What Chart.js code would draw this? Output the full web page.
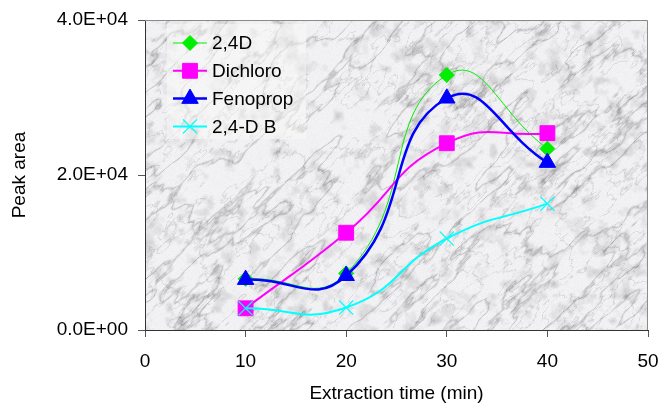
<!DOCTYPE html>
<html>
<head>
<meta charset="utf-8">
<script src="https://cdn.jsdelivr.net/npm/chart.js@4/dist/chart.umd.min.js"></script>
<style>
  body { margin: 0; background: #fff; }
  canvas { display: block; }
</style>
</head>
<body>
<canvas id="peakChart" width="661" height="403"></canvas>
<script>
// extraction time (min)
var times = [10, 20, 30, 40];
// peak areas
var d24D     = [6600, 7300, 32900, 23400];
var dichloro = [2800, 12550, 24100, 25400];
var fenoprop = [6500, 7000, 29900, 21600];
var d24DB    = [2800, 2900, 11800, 16300];

var seriesNames = ["2,4D", "Dichloro", "Fenoprop", "2,4-D B"];
var xTicks = [0, 10, 20, 30, 40, 50];
var yTicks = [0, 20000, 40000];

var FONT = "Arial, 'Liberation Sans', sans-serif";

function pts(ys) {
  return times.map(function(t, i) { return { x: t, y: ys[i] }; });
}

function sci(v) {
  var s = Number(v).toExponential(1).toUpperCase();   // 2.0E+4
  return s.replace(/E([+-])(\d)$/, "E$10$2");
}

// deterministic marble-ish texture for the plot background
function hash(i, j) {
  var h = Math.imul(i, 374761393) + Math.imul(j, 668265263);
  h = Math.imul(h ^ (h >>> 13), 1274126177);
  h = h ^ (h >>> 16);
  return (h >>> 0) / 4294967295;
}
function vnoise(x, y) {
  var xi = Math.floor(x), yi = Math.floor(y);
  var fx = x - xi, fy = y - yi;
  var sx = fx * fx * (3 - 2 * fx), sy = fy * fy * (3 - 2 * fy);
  var a = hash(xi, yi), b = hash(xi + 1, yi), c = hash(xi, yi + 1), d = hash(xi + 1, yi + 1);
  return a + (b - a) * sx + (c - a) * sy + (a - b - c + d) * sx * sy;
}
function fbm(x, y) {
  var s = 0, amp = 0.5, f = 1;
  for (var o = 0; o < 5; o++) { s += amp * vnoise(x * f, y * f); amp *= 0.5; f *= 2; }
  return s;
}
var marble = null;
function makeMarble(w, h) {
  var c = document.createElement("canvas");
  c.width = w; c.height = h;
  var g = c.getContext("2d");
  var img = g.createImageData(w, h);
  for (var y = 0; y < h; y++) {
    for (var x = 0; x < w; x++) {
      // streaks run lower-left -> upper-right
      var u = (x - y) * 0.7071, v = (x + y) * 0.7071;
      var n1 = fbm(u / 70 + 10, v / 22 + 30);
      var vein = Math.max(0, 1 - Math.abs(n1 - 0.5) / 0.05);
      var n3 = fbm(u / 30 + 3, v / 12 + 90);
      var vein2 = Math.max(0, 1 - Math.abs(n3 - 0.45) / 0.04);
      var n2 = fbm(x / 12 + 70, y / 12 + 5);
      var mott = Math.max(0, n2 - 0.5) * 100;
      var dark = vein * vein * 45 + vein2 * vein2 * 28 + mott;
      var val = 241 - dark + (hash(x + 7, y + 3) - 0.5) * 6;
      val = Math.max(140, Math.min(252, val));
      var k = (y * w + x) * 4;
      img.data[k] = val; img.data[k + 1] = val; img.data[k + 2] = val + 2; img.data[k + 3] = 255;
    }
  }
  g.putImageData(img, 0, 0);
  return c;
}

var bgPlugin = {
  id: "marbleBg",
  beforeDraw: function(chart) {
    var a = chart.chartArea, ctx = chart.ctx;
    var w = Math.round(a.right - a.left), h = Math.round(a.bottom - a.top);
    if (!marble || marble.width !== w || marble.height !== h) marble = makeMarble(w, h);
    ctx.drawImage(marble, Math.round(a.left), Math.round(a.top));
  },
  afterDraw: function(chart) {
    // grey frame on top and right side
    var a = chart.chartArea, ctx = chart.ctx;
    ctx.save();
    ctx.strokeStyle = "#8a8a8a";
    ctx.lineWidth = 1;
    ctx.beginPath();
    ctx.moveTo(a.left, a.top + 0.5);
    ctx.lineTo(a.right - 0.5, a.top + 0.5);
    ctx.lineTo(a.right - 0.5, a.bottom);
    ctx.stroke();
    ctx.restore();
  }
};

function drawMarker(ctx, ds, x, y) {
  var o = {
    pointStyle: ds.pointStyle, radius: ds.pointRadius, rotation: 0,
    borderWidth: ds.pointBorderWidth
  };
  ctx.fillStyle = ds.pointBackgroundColor;
  ctx.strokeStyle = ds.pointBorderColor;
  ctx.lineWidth = ds.pointBorderWidth;
  Chart.helpers.drawPoint(ctx, o, x, y);
}

var legendPlugin = {
  id: "insideLegend",
  afterDatasetsDraw: function(chart) {
    var ctx = chart.ctx;
    var bx = 167, by = 24, bw = 139, bh = 115;
    ctx.save();
    ctx.fillStyle = "rgba(250,250,250,0.5)";
    ctx.fillRect(bx, by, bw, bh);
    ctx.font = "19px " + FONT;
    ctx.textBaseline = "middle";
    chart.data.datasets.forEach(function(ds, i) {
      var cy = 43 + i * 27.8;
      ctx.strokeStyle = ds.borderColor;
      ctx.lineWidth = ds.borderWidth;
      ctx.beginPath();
      ctx.moveTo(173, cy);
      ctx.lineTo(207, cy);
      ctx.stroke();
      drawMarker(ctx, ds, 190, cy);
      ctx.fillStyle = "#000";
      ctx.fillText(ds.label, 212, cy + 1);
    });
    ctx.restore();
  }
};

var data = {
  datasets: [
    {
      label: seriesNames[0], data: pts(d24D), order: 4,
      borderColor: "#00ee00", borderWidth: 1,
      pointStyle: "rectRot", pointRadius: 7.5,
      pointBackgroundColor: "#00ee00", pointBorderColor: "#00ee00", pointBorderWidth: 1
    },
    {
      label: seriesNames[1], data: pts(dichloro), order: 3,
      borderColor: "#ff00ff", borderWidth: 2,
      pointStyle: "rect", pointRadius: 10.5,
      pointBackgroundColor: "#ff00ff", pointBorderColor: "#ff00ff", pointBorderWidth: 1
    },
    {
      label: seriesNames[2], data: pts(fenoprop), order: 2,
      borderColor: "#0000ff", borderWidth: 2.5,
      pointStyle: "triangle", pointRadius: 9.5,
      pointBackgroundColor: "#0000ff", pointBorderColor: "#0000ff", pointBorderWidth: 1
    },
    {
      label: seriesNames[3], data: pts(d24DB), order: 1,
      borderColor: "#00ffff", borderWidth: 2,
      pointStyle: "crossRot", pointRadius: 10,
      pointBackgroundColor: "#00ffff", pointBorderColor: "#00ffff", pointBorderWidth: 1.2
    }
  ]
};

var options = {
  responsive: false,
  devicePixelRatio: 1,
  animation: false,
  layout: { padding: { top: 20, right: 13, left: 0, bottom: 0 } },
  elements: { line: { tension: 0.5, fill: false } },
  plugins: { legend: { display: false }, tooltip: { enabled: false } },
  scales: {
    x: {
      type: "linear", min: 0, max: 50,
      afterBuildTicks: function(s) { s.ticks = xTicks.map(function(v) { return { value: v }; }); },
      afterFit: function(s) { s.height = 73; s.paddingLeft = 0; s.paddingRight = 0; },
      grid: { display: true, drawOnChartArea: false, drawTicks: true, tickLength: 7, color: "#555" },
      border: { display: true, color: "#333", width: 1 },
      ticks: { color: "#000", padding: 13, font: { family: FONT, size: 19 } },
      title: {
        display: true, text: "Extraction time (min)", color: "#000",
        font: { family: FONT, size: 19, lineHeight: 1 }, padding: { top: 0, bottom: 0 }
      }
    },
    y: {
      min: 0, max: 40000,
      afterBuildTicks: function(s) { s.ticks = yTicks.map(function(v) { return { value: v }; }); },
      afterFit: function(s) { s.width = 145; s.paddingTop = 0; s.paddingBottom = 0; },
      grid: { display: true, drawOnChartArea: false, drawTicks: true, tickLength: 7, color: "#555" },
      border: { display: true, color: "#333", width: 1 },
      ticks: { color: "#000", padding: 10, font: { family: FONT, size: 19 }, callback: function(v) { return sci(v); } },
      title: {
        display: true, text: "Peak area", color: "#000",
        font: { family: FONT, size: 19, lineHeight: 1 }, padding: { top: 10, bottom: 0 }
      }
    }
  }
};

new Chart(document.getElementById("peakChart"), {
  type: "line",
  data: data,
  options: options,
  plugins: [bgPlugin, legendPlugin]
});
</script>
</body>
</html>
